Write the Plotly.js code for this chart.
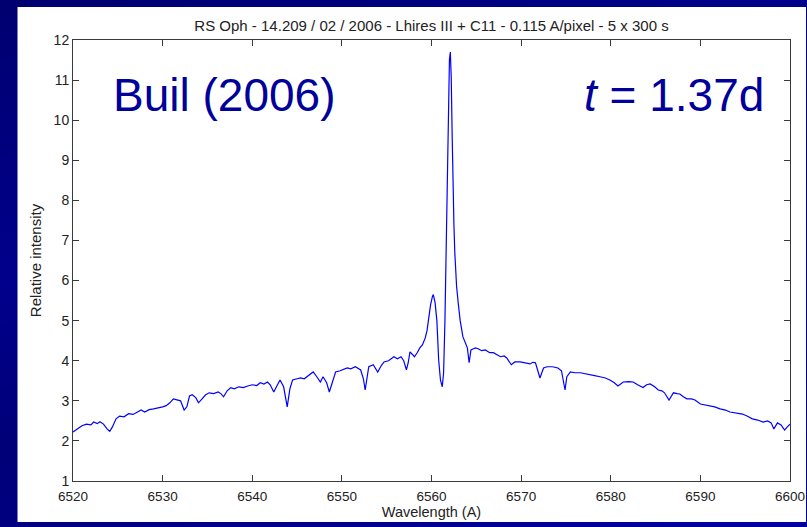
<!DOCTYPE html>
<html>
<head>
<meta charset="utf-8">
<script src="https://cdn.plot.ly/plotly-3.0.1.min.js"></script>
<style>
  html, body { margin: 0; padding: 0; }
  body {
    width: 807px; height: 527px; overflow: hidden;
    background: linear-gradient(160deg, #000070 0%, #00008c 35%, #000078 55%, #0000a0 100%);
  }
  #chart { width: 807px; height: 527px; }
</style>
</head>
<body>
<div id="chart"></div>
<script>
// RS Oph H-alpha region spectrum, wavelength in Angstrom
const wavelength = [
  6520.0, 6520.5, 6521.0, 6521.5, 6522.0, 6522.3, 6522.7, 6523.0, 6523.4, 6523.8,
  6524.1, 6524.4, 6524.8, 6525.2, 6525.7, 6526.2, 6526.7, 6527.2, 6527.6, 6528.0,
  6528.5, 6529.0, 6529.5, 6530.0, 6530.4, 6530.8, 6531.2, 6531.6, 6532.0, 6532.4,
  6532.7, 6533.0, 6533.3, 6533.7, 6534.0, 6534.4, 6534.8, 6535.2, 6535.7, 6536.2,
  6536.5, 6536.8, 6537.2, 6537.6, 6538.0, 6538.5, 6539.0, 6539.5, 6540.0, 6540.5,
  6540.9, 6541.3, 6541.7, 6542.0, 6542.4, 6542.7, 6543.1, 6543.5, 6543.9, 6544.2,
  6544.5, 6545.0, 6545.4, 6545.8, 6546.2, 6546.8, 6547.2, 6547.6, 6547.9, 6548.3,
  6548.6, 6549.0, 6549.3, 6549.8, 6550.2, 6550.6, 6551.0, 6551.5, 6552.1, 6552.4,
  6552.6, 6552.8, 6553.0, 6553.5, 6554.0, 6554.4, 6554.7, 6555.2, 6555.8, 6556.2,
  6556.6, 6556.9, 6557.2, 6557.4, 6557.6, 6557.9, 6558.1, 6558.4, 6558.7, 6559.0,
  6559.3, 6559.5, 6559.7, 6559.9, 6560.1, 6560.2, 6560.4, 6560.6, 6560.8, 6561.0,
  6561.2, 6561.35, 6561.5, 6561.65, 6561.8, 6561.9, 6562.0, 6562.1, 6562.2, 6562.3,
  6562.4, 6562.5, 6562.6, 6562.8, 6563.0, 6563.2, 6563.5, 6563.8, 6564.0, 6564.2,
  6564.4, 6564.7, 6564.9, 6565.2, 6565.6, 6566.0, 6566.5, 6566.9, 6567.3, 6567.7,
  6568.1, 6568.4, 6568.9, 6569.3, 6569.9, 6570.3, 6570.7, 6571.0, 6571.3, 6571.6,
  6572.1, 6572.5, 6572.9, 6573.5, 6574.1, 6574.5, 6574.9, 6575.1, 6575.5, 6576.0,
  6576.6, 6577.2, 6577.7, 6578.2, 6578.8, 6579.4, 6579.9, 6580.4, 6580.8, 6581.4,
  6582.0, 6582.5, 6583.0, 6583.6, 6584.0, 6584.4, 6584.9, 6585.3, 6585.7, 6586.0,
  6586.5, 6587.0, 6587.4, 6587.7, 6588.1, 6588.5, 6589.0, 6589.4, 6590.0, 6590.5,
  6591.1, 6591.6, 6592.2, 6592.8, 6593.3, 6594.0, 6594.7, 6595.2, 6595.8, 6596.4,
  6597.0, 6597.5, 6597.9, 6598.2, 6598.6, 6599.0, 6599.4, 6599.7, 6600.0
];

// Relative intensity at each wavelength
const intensity = [
  2.22, 2.30, 2.38, 2.42, 2.40, 2.47, 2.43, 2.48, 2.42, 2.30,
  2.24, 2.35, 2.55, 2.62, 2.60, 2.68, 2.66, 2.72, 2.77, 2.72,
  2.78, 2.80, 2.82, 2.85, 2.88, 2.95, 3.05, 3.02, 3.00, 2.77,
  2.85, 3.12, 3.15, 3.08, 2.95, 3.05, 3.15, 3.20, 3.18, 3.22,
  3.18, 3.10, 3.25, 3.33, 3.30, 3.35, 3.33, 3.37, 3.40, 3.38,
  3.45, 3.42, 3.47, 3.40, 3.22, 3.35, 3.52, 3.35, 2.85, 3.30,
  3.52, 3.55, 3.57, 3.55, 3.62, 3.72, 3.60, 3.47, 3.60, 3.45,
  3.22, 3.50, 3.72, 3.75, 3.78, 3.82, 3.80, 3.85, 3.77, 3.55,
  3.27, 3.55, 3.85, 3.90, 3.72, 3.88, 3.97, 4.00, 4.10, 4.05,
  4.10, 4.00, 3.77, 3.95, 4.22, 4.15, 4.10, 4.20, 4.32, 4.40,
  4.57, 4.75, 5.10, 5.40, 5.60, 5.65, 5.45, 5.00, 4.02, 3.52,
  3.35, 3.70, 5.00, 7.00, 8.85, 10.75, 11.50, 11.70, 11.08, 9.70,
  8.20, 7.40, 6.70, 5.85, 5.40, 5.00, 4.60, 4.45, 4.32, 3.95,
  4.27, 4.30, 4.32, 4.30, 4.25, 4.27, 4.20, 4.20, 4.15, 4.10,
  4.12, 4.07, 3.90, 3.97, 3.97, 3.95, 3.93, 3.92, 3.96, 3.95,
  3.57, 3.82, 3.85, 3.85, 3.82, 3.75, 3.27, 3.60, 3.72, 3.70,
  3.70, 3.68, 3.65, 3.63, 3.60, 3.57, 3.52, 3.45, 3.37, 3.47,
  3.48, 3.47, 3.40, 3.33, 3.40, 3.42, 3.35, 3.27, 3.25, 3.20,
  3.02, 3.20, 3.18, 3.17, 3.10, 3.05, 3.05, 3.02, 2.92, 2.90,
  2.87, 2.85, 2.80, 2.77, 2.72, 2.70, 2.67, 2.62, 2.55, 2.52,
  2.47, 2.50, 2.45, 2.30, 2.45, 2.40, 2.27, 2.35, 2.42
];

const xTicks = [6520, 6530, 6540, 6550, 6560, 6570, 6580, 6590, 6600];
const yTicks = [1, 2, 3, 4, 5, 6, 7, 8, 9, 10, 11, 12];

const chartTitle = 'RS Oph - 14.209 / 02 / 2006 - Lhires III + C11 - 0.115 A/pixel - 5 x 300 s';
const xLabel = 'Wavelength (A)';
const yLabel = 'Relative intensity';
const authorNote = 'Buil (2006)';
const epochNote = '<i>t</i> = 1.37d';

const family = 'Liberation Sans, Arial, sans-serif';
const xTickFont = { family: family, size: 13.5, color: '#222' };
const yTickFont = { family: family, size: 14, color: '#222' };
const labelFont = { family: family, size: 14.5, color: '#222' };
const noteFont = { family: family, size: 46, color: '#00009a' };

const trace = {
  x: wavelength,
  y: intensity,
  type: 'scatter',
  mode: 'lines',
  line: { color: '#0000ff', width: 1.2 },
  hoverinfo: 'x+y'
};

const axisCommon = {
  showgrid: false,
  zeroline: false,
  showline: true,
  linecolor: '#3a3a3a',
  linewidth: 1,
  mirror: 'ticks',
  ticks: 'inside',
  ticklen: 6,
  tickwidth: 1,
  tickcolor: '#3a3a3a'
};

const layout = {
  width: 807,
  height: 527,
  margin: { l: 72.5, r: 17, t: 40, b: 46 },
  paper_bgcolor: 'rgba(0,0,0,0)',
  plot_bgcolor: '#ffffff',
  showlegend: false,
  title: {
    text: chartTitle,
    font: { family: family, size: 15, color: '#222' },
    x: 0.5, xref: 'paper', xanchor: 'center',
    y: 1 - 26 / 527, yref: 'container', yanchor: 'middle'
  },
  xaxis: Object.assign({}, axisCommon, {
    range: [6520, 6600],
    tickvals: xTicks,
    ticktext: xTicks.map(String),
    tickfont: xTickFont,
    ticklabelstandoff: 3,
    title: { text: xLabel, font: labelFont, standoff: 3 }
  }),
  yaxis: Object.assign({}, axisCommon, {
    range: [1, 12],
    tickvals: yTicks,
    ticktext: yTicks.map(String),
    tickfont: yTickFont,
    title: { text: yLabel, font: { family: family, size: 15, color: '#222' }, standoff: 8 }
  }),
  shapes: [{
    type: 'rect', xref: 'paper', yref: 'paper', layer: 'below',
    x0: -0.0774, x1: 1.0223, y0: -0.093, y1: 1.0748,
    fillcolor: '#ffffff', line: { width: 0 }
  }],
  annotations: [
    {
      text: authorNote, xref: 'paper', yref: 'paper',
      x: 0.053, y: 0.875, xanchor: 'left', yanchor: 'middle',
      showarrow: false, font: noteFont
    },
    {
      text: epochNote, xref: 'paper', yref: 'paper',
      x: 0.967, y: 0.875, xanchor: 'right', yanchor: 'middle',
      showarrow: false, font: noteFont
    }
  ]
};

Plotly.newPlot('chart', [trace], layout, { displayModeBar: false, staticPlot: true });
</script>
</body>
</html>
